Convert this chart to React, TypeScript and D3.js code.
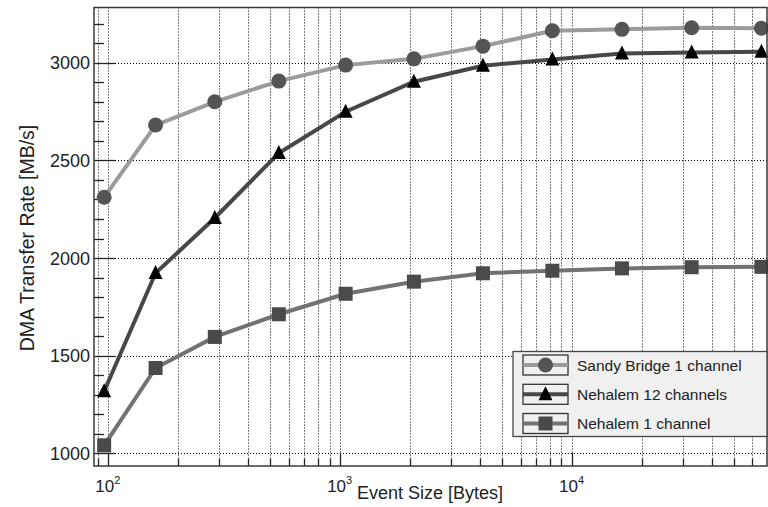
import React from "react";
import * as d3 from "d3";

const eventSizes = [96, 160, 288, 544, 1056, 2080, 4128, 8224, 16416, 32800, 65568];
const sandyBridge1 = [2311, 2681, 2800, 2906, 2988, 3020, 3085, 3164, 3171, 3179, 3177];
const nehalem12 = [1318, 1923, 2205, 2538, 2749, 2903, 2985, 3017, 3048, 3053, 3056];
const nehalem1 = [1041, 1437, 1596, 1712, 1817, 1879, 1922, 1935, 1947, 1953, 1955];
const yTicks = [1000, 1500, 2000, 2500, 3000];
const xDecades = [2, 3, 4];
const legendLabels = ["Sandy Bridge 1 channel", "Nehalem 12 channels", "Nehalem 1 channel"];

const W = 768;
const H = 507;
const L = 94, R = 767, T = 7.5, B = 466;

const snap = (v: number) => Math.round(v) + 0.5;

export default function App() {
  const x = d3.scaleLog().domain([86.8, 69300]).range([L, R]);
  const y = d3.scaleLinear().domain([935, 3283]).range([B, T]);

  const xMinor: number[] = [];
  for (let e = 1; e <= 4; e++) {
    for (let m = 1; m <= 9; m++) {
      const v = m * Math.pow(10, e);
      if (v >= 86.8 && v <= 69300) xMinor.push(v);
    }
  }
  const yMinor = d3.range(1000, 3300, 100);

  const line = d3
    .line<[number, number]>()
    .x((d) => x(d[0]))
    .y((d) => y(d[1]));

  const series = [
    { name: legendLabels[0], vals: sandyBridge1, line: "#9b9b9b", marker: "#545454", shape: "circle" },
    { name: legendLabels[1], vals: nehalem12, line: "#474747", marker: "#000000", shape: "triangle" },
    { name: legendLabels[2], vals: nehalem1, line: "#727272", marker: "#4a4a4a", shape: "square" },
  ];

  const marker = (shape: string, cx: number, cy: number, fill: string, key?: any) => {
    if (shape === "circle") return <circle key={key} cx={cx} cy={cy} r={7.5} fill={fill} />;
    if (shape === "square")
      return <rect key={key} x={cx - 7} y={cy - 7} width={14} height={14} fill={fill} />;
    const s = 7;
    return (
      <path
        key={key}
        d={`M${cx},${cy - s - 1} L${cx + s},${cy + s - 1} L${cx - s},${cy + s - 1} Z`}
        fill={fill}
      />
    );
  };

  const font = "Liberation Sans, Arial, Helvetica, sans-serif";
  const legX = 513, legY = 351.5, legW = 254, legH = 85;
  const rowY = [365, 394.3, 423.5];

  return (
    <svg width={W} height={H} style={{ position: "absolute", left: 0, top: 0, background: "#fff" }} fontFamily={font}>
      <rect x={0} y={0} width={W} height={H} fill="#fff" />
      {/* vertical grid */}
      {xMinor.map((v, i) => (
        <line key={"gx" + i} x1={snap(x(v))} x2={snap(x(v))} y1={T} y2={B} stroke="#000" strokeWidth={1} strokeDasharray="1,2" />
      ))}
      {/* horizontal grid */}
      {yTicks.map((v, i) => (
        <line key={"gy" + i} x1={L} x2={R} y1={snap(y(v))} y2={snap(y(v))} stroke="#000" strokeWidth={1} strokeDasharray="1,2" />
      ))}
      {/* y ticks */}
      {yMinor.map((v, i) => (
        <line key={"yt" + i} x1={L} x2={L + (v % 500 === 0 ? 21 : 10)} y1={snap(y(v))} y2={snap(y(v))} stroke="#222" strokeWidth={1.3} />
      ))}
      {/* x ticks */}
      {xMinor.map((v, i) => {
        const major = xDecades.some((e) => Math.abs(v - Math.pow(10, e)) < 1e-6);
        return (
          <line key={"xt" + i} x1={snap(x(v))} x2={snap(x(v))} y1={B} y2={B - (major ? 13 : 7)} stroke="#222" strokeWidth={1.3} />
        );
      })}
      {/* series lines */}
      {series.map((s, i) => (
        <path
          key={"l" + i}
          d={line(eventSizes.map((e, j) => [e, s.vals[j]] as [number, number])) || ""}
          fill="none"
          stroke={s.line}
          strokeWidth={4}
        />
      ))}
      {series.map((s, i) => (
        <g key={"m" + i}>{eventSizes.map((e, j) => marker(s.shape, x(e), y(s.vals[j]), s.marker, j))}</g>
      ))}
      {/* frame */}
      <rect x={L} y={T} width={R - L} height={B - T} fill="none" stroke="#3a3a3a" strokeWidth={1.5} />
      {/* y tick labels */}
      {yTicks.map((v, i) => (
        <text key={"yl" + i} x={90} y={y(v) + 6.5} textAnchor="end" fontSize={18} fill="#222">
          {v}
        </text>
      ))}
      {/* x tick labels */}
      {xDecades.map((e, i) => (
        <text key={"xl" + i} x={x(Math.pow(10, e)) - 13} y={492} fontSize={17} fill="#222">
          10
          <tspan dy={-8} fontSize={11}>
            {e}
          </tspan>
        </text>
      ))}
      {/* axis titles */}
      <text x={430} y={499} textAnchor="middle" fontSize={18} fill="#222">
        Event Size [Bytes]
      </text>
      <text transform="translate(34,238) rotate(-90)" textAnchor="middle" fontSize={19.5} fill="#222">
        DMA Transfer Rate [MB/s]
      </text>
      {/* legend */}
      <rect x={legX} y={legY} width={legW} height={legH} fill="#f0f0f0" stroke="#444" strokeWidth={1.3} />
      {series.map((s, i) => (
        <g key={"lg" + i}>
          <rect x={523} y={rowY[i] - 10} width={45} height={20} fill="none" stroke="#333" strokeWidth={1.3} />
          <line x1={523} x2={568} y1={rowY[i]} y2={rowY[i]} stroke={s.line} strokeWidth={4} />
          {marker(s.shape, 545.5, rowY[i], s.marker)}
          <text x={577} y={rowY[i] + 5.5} fontSize={15.5} fill="#222">
            {s.name}
          </text>
        </g>
      ))}
    </svg>
  );
}
